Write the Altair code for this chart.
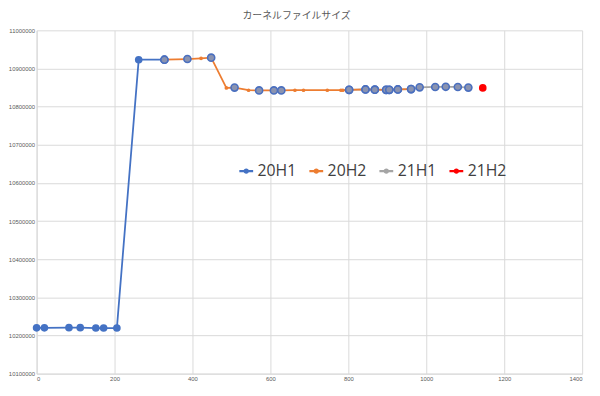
import altair as alt
import pandas as pd

# ---- data ----
series_names = ["20H1", "20H2", "21H1", "21H2"]
series_colors = ["#4472C4", "#ED7D31", "#A5A5A5", "#FF0000"]

x_20h1 = [0, 20, 83, 112, 152, 172, 206, 262, 328]
v_20h1 = [10220000, 10220000, 10220500, 10220500, 10219500, 10219500, 10219500, 10923000, 10923000]
hl_20h1 = [True, True, True, True, True, True, True, True, True]

x_20h2 = [328, 387, 422, 448, 487, 508, 544, 571, 609, 628, 663, 685, 746, 781, 786,
          802, 844, 868, 897, 905, 927, 961]
v_20h2 = [10923000, 10924800, 10926600, 10928400, 10849100, 10850000, 10843000, 10842500,
          10842500, 10842500, 10843000, 10843000, 10843000, 10843000, 10843000,
          10844000, 10845000, 10844500, 10844000, 10844000, 10845000, 10846000]
hl_20h2 = [True, True, False, True, False, True, False, True, True, True, False, False, False,
           False, False, True, True, True, True, True, True, True]

x_21h1 = [802, 844, 868, 897, 905, 927, 961, 983, 1023, 1050, 1081, 1108]
v_21h1 = [10844000, 10845000, 10844500, 10844000, 10844000, 10845000, 10846000,
          10850600, 10851500, 10852000, 10851500, 10850000]
hl_21h1 = [True, True, True, True, True, True, True, True, True, True, True, True]

x_21h2 = [1145]
v_21h2 = [10849000]
hl_21h2 = [True]

x_ticks = [0, 200, 400, 600, 800, 1000, 1200, 1400]
y_ticks = [10100000, 10200000, 10300000, 10400000, 10500000, 10600000,
           10700000, 10800000, 10900000, 11000000]

# row order controls drawing order of the lines (orange last)
rows = []
for name, xs, vs, hs in [("21H1", x_21h1, v_21h1, hl_21h1),
                         ("20H1", x_20h1, v_20h1, hl_20h1),
                         ("20H2", x_20h2, v_20h2, hl_20h2),
                         ("21H2", x_21h2, v_21h2, hl_21h2)]:
    for i, (xv, vv, hv) in enumerate(zip(xs, vs, hs)):
        rows.append({"series": name, "x": xv, "v": vv, "big": hv, "idx": i})
df = pd.DataFrame(rows)

xenc = alt.X("x:Q", scale=alt.Scale(domain=[0, 1400], nice=False),
             axis=alt.Axis(values=x_ticks, title=None, format="d"))
yenc = alt.Y("v:Q", scale=alt.Scale(domain=[10100000, 11000000], nice=False, zero=False),
             axis=alt.Axis(values=y_ticks, title=None, format="d"))

legend_symbol = "M-1,0H1M-0.22,0A0.22,0.22 0 1,1 0.22,0A0.22,0.22 0 1,1 -0.22,0"

base = alt.Chart(df)

lines = base.mark_line(strokeWidth=1.8).encode(
    x=xenc, y=yenc,
    color=alt.Color("series:N",
                    scale=alt.Scale(domain=series_names, range=series_colors),
                    legend=alt.Legend(title=None, orient="none", legendX=204, legendY=134,
                                      direction="horizontal", columns=4,
                                      labelFontSize=16, labelFont="Open Sans",
                                      labelColor="#404040", symbolType=legend_symbol,
                                      symbolSize=196, symbolStrokeWidth=2.4,
                                      labelOffset=3, columnPadding=7)),
    detail="series:N",
    order="idx:Q",
)

small_pts = base.transform_filter(
    (alt.datum.series == "20H2") & (alt.datum.big == False)
).mark_point(filled=True, size=14, color="#ED7D31", opacity=1).encode(x=xenc, y=yenc)

blue_pts = base.transform_filter(
    (alt.datum.series == "20H1") & (alt.datum.x < 300)
).mark_point(filled=True, size=60, color="#4472C4", opacity=1).encode(x=xenc, y=yenc)

ring_pts = base.transform_filter(
    (alt.datum.big == True) & (alt.datum.x >= 300) & (alt.datum.series != "21H2")
    & ((alt.datum.series != "20H1") | (alt.datum.x < 329))
).mark_point(filled=True, size=52, fill="#8a93b0", stroke="#4a6fbf", strokeWidth=1.6,
             opacity=1).encode(x=xenc, y=yenc)

red_pts = base.transform_filter(
    alt.datum.series == "21H2"
).mark_point(filled=True, size=60, color="#FF0000", opacity=1).encode(x=xenc, y=yenc)

chart = alt.layer(lines, small_pts, blue_pts, ring_pts, red_pts).properties(
    width=553, height=348,
    padding={"left": 29, "top": 20, "right": 10, "bottom": 18},
    autosize=alt.AutoSizeParams(type="none"),
    title=alt.TitleParams("カーネルファイルサイズ", fontSize=10, font="Noto Sans CJK JP",
                          fontWeight="normal", color="#595959", anchor="middle",
                          dx=-13, offset=7),
).configure_view(stroke=None).configure_axis(
    grid=True, gridColor="#d9d9d9", gridWidth=1,
    domainColor="#d9d9d9", domainWidth=1, ticks=False,
    labelFontSize=6, labelColor="#595959", labelFont="Liberation Sans", labelPadding=2,
)

chart.save("out.html", embed_options={"renderer": "svg", "actions": False})
